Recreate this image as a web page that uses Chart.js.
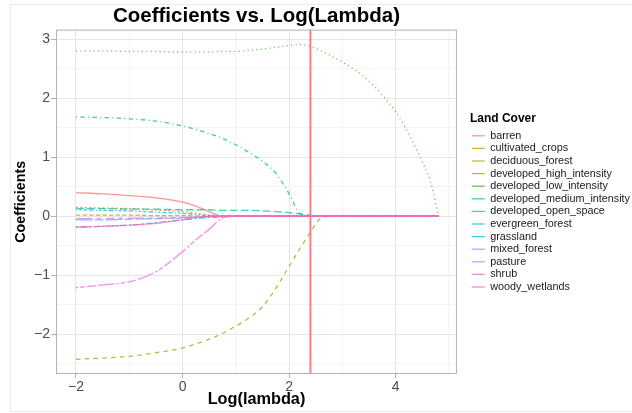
<!DOCTYPE html>
<html>
<head>
<meta charset="utf-8">
<title>Coefficients vs. Log(Lambda)</title>
<script src="https://cdn.jsdelivr.net/npm/chart.js@4.4.1/dist/chart.umd.min.js"></script>
<style>
  body { margin: 0; background: #fff; }
  #wrap { position: relative; width: 632px; height: 413px; overflow: hidden; }
  #frame { position: absolute; left: 10px; top: 4px; width: 640px; height: 406px; border: 1px solid #ececec; }
  #myChart { position: absolute; left: 0; top: 0; }
</style>
</head>
<body>
<div id="wrap">
  <div id="frame"></div>
  <canvas id="myChart" width="632" height="413"></canvas>
</div>
<script>
// log(lambda) values the coefficients were read at
const logLambda = [-2, -1.5, -1, -0.5, 0, 0.25, 0.5, 0.75, 1, 1.25, 1.5, 1.75, 2, 2.2, 2.4, 2.6, 2.8, 3, 3.25, 3.5, 3.75, 4, 4.25, 4.5, 4.65, 4.81];

const landCover = ['barren', 'cultivated_crops', 'deciduous_forest', 'developed_high_intensity',
  'developed_low_intensity', 'developed_medium_intensity', 'developed_open_space', 'evergreen_forest',
  'grassland', 'mixed_forest', 'pasture', 'shrub', 'woody_wetlands'];

// coefficient paths, one per land cover class (same order as logLambda)
const barren = [0.40, 0.38, 0.35, 0.31, 0.24, 0.17, 0.08, 0, 0, 0, 0, 0, 0, 0, 0, 0, 0, 0, 0, 0, 0, 0, 0, 0, 0, 0];
const cultivated_crops = [0.15, 0.14, 0.13, 0.11, 0.08, 0.05, 0.02, 0, 0, 0, 0, 0, 0, 0, 0, 0, 0, 0, 0, 0, 0, 0, 0, 0, 0, 0];
const deciduous_forest = [0.02, 0.02, 0.02, 0.01, 0.01, 0.005, 0, 0, 0, 0, 0, 0, 0, 0, 0, 0, 0, 0, 0, 0, 0, 0, 0, 0, 0, 0];
const developed_high_intensity = [-2.42, -2.40, -2.37, -2.31, -2.23, -2.16, -2.08, -1.98, -1.86, -1.72, -1.53, -1.22, -0.85, -0.55, -0.27, -0.03, 0, 0, 0, 0, 0, 0, 0, 0, 0, 0];
const developed_low_intensity = [2.80, 2.80, 2.79, 2.79, 2.78, 2.78, 2.78, 2.79, 2.79, 2.81, 2.83, 2.86, 2.89, 2.91, 2.87, 2.80, 2.71, 2.61, 2.47, 2.29, 2.05, 1.77, 1.38, 0.92, 0.60, 0];
const developed_medium_intensity = [1.68, 1.67, 1.65, 1.61, 1.53, 1.47, 1.40, 1.32, 1.21, 1.08, 0.93, 0.73, 0.38, 0.05, 0, 0, 0, 0, 0, 0, 0, 0, 0, 0, 0, 0];
const developed_open_space = [0.13, 0.13, 0.12, 0.12, 0.11, 0.11, 0.11, 0.10, 0.10, 0.10, 0.09, 0.08, 0.06, 0.04, 0.02, 0, 0, 0, 0, 0, 0, 0, 0, 0, 0, 0];
const evergreen_forest = [-0.19, -0.17, -0.15, -0.11, -0.06, -0.04, -0.02, -0.01, 0, 0, 0, 0, 0, 0, 0, 0, 0, 0, 0, 0, 0, 0, 0, 0, 0, 0];
const grassland = [0.11, 0.10, 0.09, 0.07, 0.05, 0.03, 0.01, 0, 0, 0, 0, 0, 0, 0, 0, 0, 0, 0, 0, 0, 0, 0, 0, 0, 0, 0];
const mixed_forest = [-0.06, -0.06, -0.05, -0.04, -0.03, -0.02, -0.01, 0, 0, 0, 0, 0, 0, 0, 0, 0, 0, 0, 0, 0, 0, 0, 0, 0, 0, 0];
const pasture = [-0.04, -0.04, -0.03, -0.03, -0.02, -0.01, 0, 0, 0, 0, 0, 0, 0, 0, 0, 0, 0, 0, 0, 0, 0, 0, 0, 0, 0, 0];
const shrub = [-1.21, -1.16, -1.11, -0.94, -0.60, -0.40, -0.22, -0.03, 0, 0, 0, 0, 0, 0, 0, 0, 0, 0, 0, 0, 0, 0, 0, 0, 0, 0];
const woody_wetlands = [-0.18, -0.17, -0.15, -0.12, -0.06, -0.02, 0, 0, 0, 0, 0, 0, 0, 0, 0, 0, 0, 0, 0, 0, 0, 0, 0, 0, 0, 0];

const coefPaths = [barren, cultivated_crops, deciduous_forest, developed_high_intensity,
  developed_low_intensity, developed_medium_intensity, developed_open_space, evergreen_forest,
  grassland, mixed_forest, pasture, shrub, woody_wetlands];

// selected lambda (vertical line)
const bestLogLambda = 2.4;

// axis ticks
const xTicks = [-2, 0, 2, 4];
const yTicks = [-2, -1, 0, 1, 2, 3];

// ggplot hue colours and linetypes
const hueColors = ['#F8766D', '#E18A00', '#BE9C00', '#8CAB00', '#24B700', '#00BE70', '#00C1AB',
  '#00BBDA', '#00ACFC', '#8B93FF', '#D575FE', '#F962DD', '#FF65AC'];
const u = 1.1;
const lineTypes = [
  [], [2, 2], [4, 2], [4, 4], [1, 3], [1, 3, 4, 3], [7, 3], [2, 2, 6, 2],
  [1, 2, 2, 2, 3, 2, 4, 2], [15, 2, 8, 2], [15, 4, 4, 4, 8, 4, 4, 4], [2, 2, 4, 2, 8, 2, 15, 2], [15, 1]
].map(function(d){ return d.map(function(v){ return v * u; }); });

const FONT = "'Liberation Sans', Arial, Helvetica, sans-serif";

function tickLabel(v){
    return v < 0 ? '\u2212' + Math.abs(v) : String(v);
}

// lighten a hex colour with some transparency, lines in the picture look washed out
function fade(hex, a){
    const n = parseInt(hex.slice(1), 16);
    return 'rgba(' + (n >> 16) + ',' + ((n >> 8) & 255) + ',' + (n & 255) + ',' + a + ')';
}

var datasets = [];
for (let i = 0; i < landCover.length; i++) {
    datasets.push({
        label: landCover[i],
        data: logLambda.map(function(x, j){ return {x: x, y: coefPaths[i][j]}; }),
        borderColor: fade(hueColors[i], 0.75),
        backgroundColor: fade(hueColors[i], 0.75),
        borderWidth: 1.3,
        borderDash: lineTypes[i],
        pointRadius: 0,
        cubicInterpolationMode: 'monotone',
        fill: false,
        order: -i
    });
}
// vertical reference line at the chosen lambda
datasets.push({
    label: 'best',
    data: [{x: bestLogLambda, y: -10}, {x: bestLogLambda, y: 10}],
    borderColor: '#FF7F7F',
    borderWidth: 2,
    pointRadius: 0,
    fill: false,
    clip: 0,
    order: -100
});

// centre the title over the panel and draw the panel border
const panelPlugin = {
    id: 'panel',
    afterLayout: function(chart){
        chart.titleBlock.left = chart.chartArea.left;
        chart.titleBlock.right = chart.chartArea.right;
    },
    afterDatasetsDraw: function(chart){
        const a = chart.chartArea, ctx = chart.ctx;
        ctx.save();
        ctx.strokeStyle = '#b3b3b3';
        ctx.lineWidth = 1;
        ctx.strokeRect(a.left + 0.5, a.top + 0.5, a.right - a.left - 1, a.bottom - a.top - 1);
        ctx.restore();
    }
};

function gridColor(ctx, majors){
    if (!ctx.tick) return 'transparent';
    return majors.indexOf(ctx.tick.value) >= 0 ? '#e6e6e6' : '#f3f3f3';
}
function tickMarkColor(ctx, majors){
    if (!ctx.tick) return 'transparent';
    return majors.indexOf(ctx.tick.value) >= 0 ? '#b3b3b3' : 'transparent';
}

const config = {
    type: 'line',
    data: { datasets: datasets },
    plugins: [panelPlugin],
    options: {
        responsive: false,
        animation: false,
        devicePixelRatio: 1,
        layout: { padding: { left: 0, top: 0, bottom: 0, right: -8 } },
        plugins: {
            title: {
                display: true,
                text: 'Coefficients vs. Log(Lambda)',
                color: '#000',
                font: { family: FONT, size: 20.5, weight: 'bold' },
                padding: { top: 4, bottom: 1 }
            },
            legend: {
                position: 'right',
                align: 'start',
                maxWidth: 180,
                title: {
                    display: true,
                    text: 'Land Cover',
                    position: 'start',
                    color: '#000',
                    font: { family: FONT, size: 12, weight: 'bold' },
                    padding: { top: 113, bottom: 1.2 }
                },
                labels: {
                    usePointStyle: true,
                    pointStyle: 'line',
                    pointStyleWidth: 13,
                    color: '#1a1a1a',
                    font: { family: FONT, size: 10.8 },
                    padding: 1.8,
                    filter: function(item){ return item.text !== 'best'; },
                    sort: function(a, b){ return a.datasetIndex - b.datasetIndex; }
                }
            },
            tooltip: { enabled: false }
        },
        scales: {
            x: {
                type: 'linear',
                position: 'bottom',
                min: -2.375,
                max: 5.15,
                afterFit: function(s){ s.height = 39; },
                border: { display: false },
                grid: {
                    color: function(ctx){ return gridColor(ctx, xTicks); },
                    tickColor: function(ctx){ return tickMarkColor(ctx, xTicks); },
                    tickLength: 4
                },
                ticks: {
                    stepSize: 1,
                    includeBounds: false,
                    autoSkip: false,
                    maxRotation: 0,
                    padding: 1,
                    color: '#4d4d4d',
                    font: { family: FONT, size: 14 },
                    callback: function(v){ return xTicks.indexOf(v) >= 0 ? tickLabel(v) : ''; }
                },
                title: {
                    display: true,
                    text: 'Log(lambda)',
                    color: '#000',
                    font: { family: FONT, size: 16.3, weight: 'bold' },
                    padding: { top: 0, bottom: 4 }
                }
            },
            y: {
                type: 'linear',
                position: 'left',
                min: -2.67,
                max: 3.16,
                afterFit: function(s){ s.width = 56; },
                border: { display: false },
                grid: {
                    color: function(ctx){ return gridColor(ctx, yTicks); },
                    tickColor: function(ctx){ return tickMarkColor(ctx, yTicks); },
                    tickLength: 5
                },
                ticks: {
                    stepSize: 0.5,
                    includeBounds: false,
                    autoSkip: false,
                    padding: 1,
                    color: '#4d4d4d',
                    font: { family: FONT, size: 14 },
                    callback: function(v){ return yTicks.indexOf(v) >= 0 ? tickLabel(v) : ''; }
                },
                title: {
                    display: true,
                    text: 'Coefficients',
                    color: '#000',
                    font: { family: FONT, size: 14.3, weight: 'bold' },
                    padding: { top: 12, bottom: 0 }
                }
            },
            // empty axis used only as a gap between panel and legend
            gap: {
                type: 'linear',
                position: 'right',
                display: true,
                afterFit: function(s){ s.width = 13; },
                border: { display: false },
                grid: { display: false, drawTicks: false },
                ticks: { display: false }
            }
        }
    }
};

const myChart = new Chart(document.getElementById('myChart'), config);
</script>
</body>
</html>
